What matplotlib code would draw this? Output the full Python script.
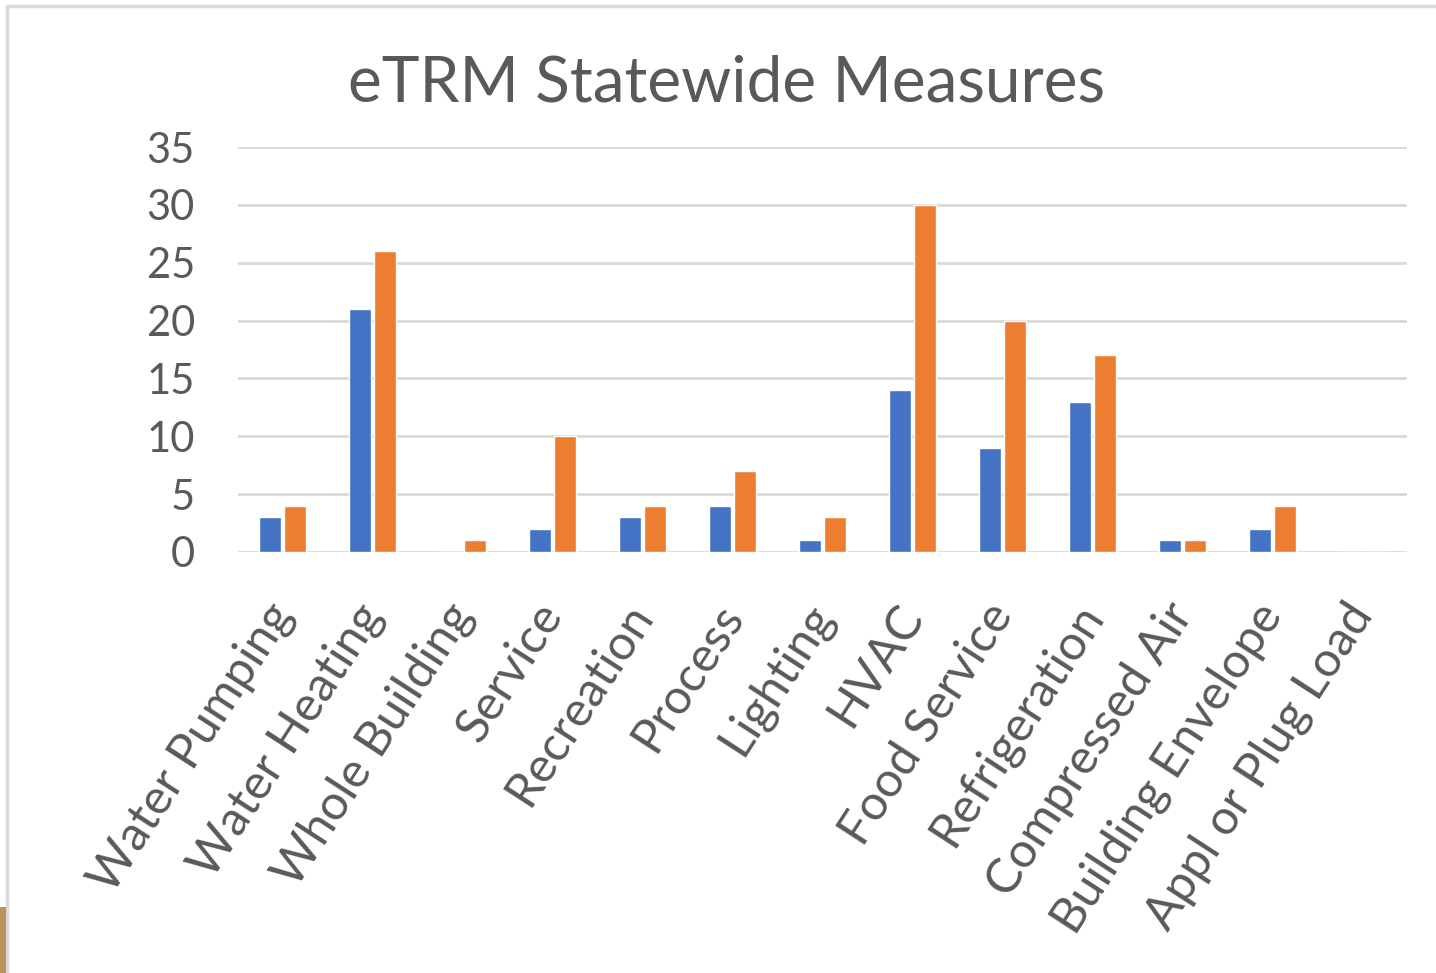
"""Clustered bar chart of eTRM statewide measures by category."""

import matplotlib.pyplot as plt
import numpy as np
from matplotlib.patches import Rectangle

categories = [
    "Water Pumping", "Water Heating", "Whole Building", "Service", "Recreation",
    "Process", "Lighting", "HVAC", "Food Service", "Refrigeration",
    "Compressed Air", "Building Envelope", "Appl or Plug Load",
]
series_blue = [3, 21, 0, 2, 3, 4, 1, 14, 9, 13, 1, 2, 0]
series_orange = [4, 26, 1, 10, 4, 7, 3, 30, 20, 17, 1, 4, 0]
y_ticks = [0, 5, 10, 15, 20, 25, 30, 35]

TEXT = "#595959"
GRID = "#D9D9D9"


def main() -> None:
    plt.rcParams["font.family"] = ["Lato", "DejaVu Sans"]
    fig = plt.figure(figsize=(14.36, 9.73), dpi=100)
    ax = fig.add_axes([0.1657, 0.4327, 0.8141, 0.4162])

    x = np.arange(len(categories))
    ax.bar(x - 0.139, series_blue, width=0.245, color="#4472C4", edgecolor="white", linewidth=1)
    ax.bar(x + 0.139, series_orange, width=0.245, color="#ED7D31", edgecolor="white", linewidth=1)

    ax.set_xlim(-0.5, len(categories) - 0.5)
    ax.set_ylim(0, 35)
    ax.set_yticks(y_ticks)
    ax.set_axisbelow(True)
    ax.yaxis.grid(True, color=GRID, linewidth=2)
    for spine in ax.spines.values():
        spine.set_visible(False)
    ax.tick_params(axis="y", length=0, colors=TEXT, labelsize=30, pad=31)
    ax.set_xticks(x)
    ax.set_xticklabels(categories, rotation=57, ha="right", va="center", rotation_mode="anchor")
    ax.tick_params(axis="x", length=0, colors=TEXT, labelsize=35, pad=40)

    fig.text(0.506, 0.914, "eTRM Statewide Measures", ha="center", va="center", fontsize=46, color=TEXT)

    # slide frame around the chart
    fig.add_artist(Rectangle((7 / 1436, -0.01), 1.02, 1 - 6 / 973 + 0.01, transform=fig.transFigure,
                             fill=False, edgecolor=GRID, linewidth=2.5))
    fig.add_artist(Rectangle((0, 0), 6 / 1436, 66 / 973, transform=fig.transFigure,
                             facecolor="#B8935E", edgecolor="none"))

    fig.savefig("out.png", dpi=100)


if __name__ == "__main__":
    main()
